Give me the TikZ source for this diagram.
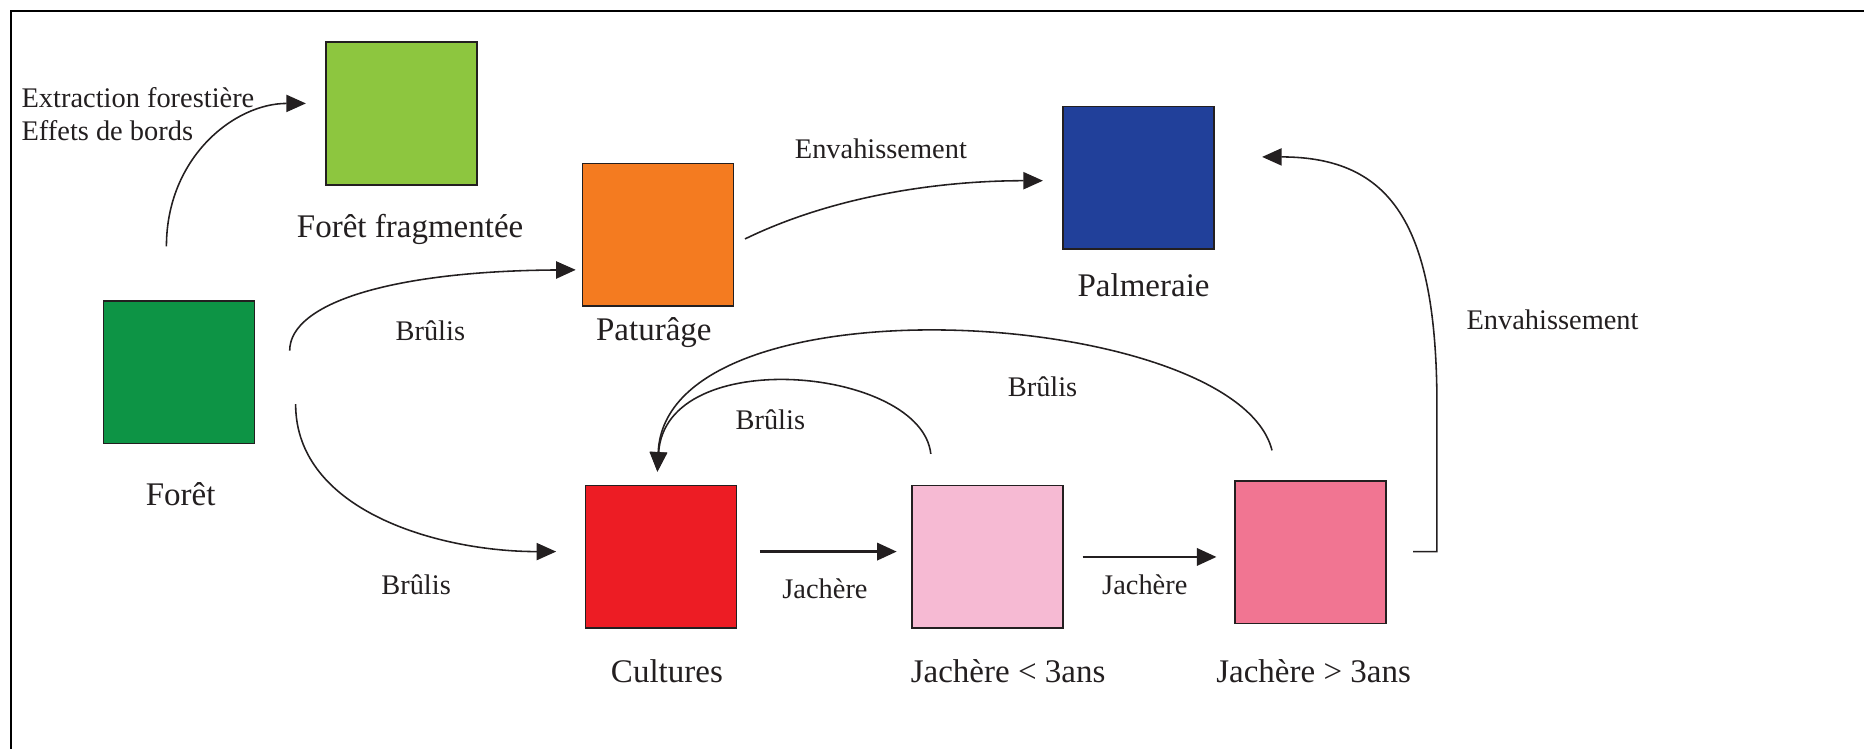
\documentclass[tikz,border=0pt]{standalone}
\usepackage{fontspec}
\setmainfont{Liberation Serif}
\usetikzlibrary{arrows.meta, positioning}
\definecolor{fragvert}{RGB}{141,198,63}
\definecolor{foretvert}{RGB}{13,148,69}
\definecolor{paturorange}{RGB}{244,123,32}
\definecolor{palmbleu}{RGB}{33,64,154}
\definecolor{cultrouge}{RGB}{237,28,36}
\definecolor{jachclair}{RGB}{246,186,211}
\definecolor{jachfonce}{RGB}{241,117,146}
\definecolor{bordgris}{RGB}{35,31,32}

\begin{document}
\begin{tikzpicture}[x=0.02cm, y=0.02cm,
    parcelle/.style={rectangle, draw=bordgris, line width=0.8pt, minimum width=2.54cm, minimum height=2.4cm, inner sep=0pt},
    etiquette/.style={font=\fontsize{15.8}{18}\selectfont, text=bordgris},
    transition/.style={font=\fontsize{13.6}{16}\selectfont, text=bordgris},
    courbe/.style={line width=0.75pt, color=bordgris, -{Triangle[length=0.33cm, width=0.29cm]}},
    fleche/.style={line width=1.3pt, color=bordgris, -{Triangle[length=0.33cm, width=0.29cm]}}
]
\useasboundingbox (0,0) rectangle (1568,630);
\draw[line width=1.1pt] (9,0) -- (9,621) -- (1568,621);
\node[parcelle, fill=foretvert] (foret) at (150.5,317) {};
\node[parcelle, fill=fragvert] (frag) at (337.5,534.5) {};
\node[parcelle, fill=paturorange] (patur) at (553.5,432.5) {};
\node[parcelle, fill=palmbleu] (palm) at (957.5,480.5) {};
\node[parcelle, fill=cultrouge] (cult) at (556,161.5) {};
\node[parcelle, fill=jachclair] (jachA) at (830.5,161.5) {};
\node[parcelle, fill=jachfonce] (jachB) at (1102.5,165.5) {};
\node[etiquette] (lforet) at (152,214) {Forêt};
\node[etiquette] (lfrag) at (345,437) {Forêt fragmentée};
\node[etiquette] (lpatur) at (550,350) {Paturâge};
\node[etiquette] (lpalm) at (962,390) {Palmeraie};
\node[etiquette] (lcult) at (561,65) {Cultures};
\node[etiquette] (ljachA) at (848,65) {Jachère < 3ans};
\node[etiquette] (ljachB) at (1105,65) {Jachère > 3ans};
\node[transition, align=left, anchor=west] (lextr) at (12,534) {Extraction forestière\\Effets de bords};
\node[transition] (brulisA) at (362,352) {Brûlis};
\node[transition] (brulisB) at (350,138) {Brûlis};
\node[transition] (envA) at (741,505) {Envahissement};
\node[transition] (jachTA) at (694,135) {Jachère};
\node[transition] (jachTB) at (963,138) {Jachère};
\node[transition] (envB) at (1306,361) {Envahissement};
\node[transition] (brulisC) at (648,277) {Brûlis};
\node[transition] (brulisD) at (877,305) {Brûlis};
\draw[courbe] ([shift={(-10.5,45)}]foret.north) .. controls +(0,75) and +(-60,0) .. ([shift={(-16,8.5)}]frag.west);
\draw[courbe] ([shift={(29,18)}]foret.east) .. controls +(0,40) and +(-155,-1) .. ([shift={(-5,-29.5)}]patur.west);
\draw[courbe] ([shift={(34,-27)}]foret.east) .. controls +(0,-90) and +(-98,0) .. ([shift={(-24,4.5)}]cult.west);
\draw[courbe] ([shift={(9,-3.5)}]patur.east) .. controls +(74,36) and +(-88,0) .. ([shift={(-16,-2.5)}]palm.west);
\draw[fleche] ([shift={(19,4.5)}]cult.east) -- ([shift={(-12,4.5)}]jachA.west);
\draw[fleche] ([shift={(16,0)}]jachA.east) -- ([shift={(-15,-4)}]jachB.west);
\draw[courbe] ([shift={(22,0.5)}]jachB.east) -- ++(20,0) -- ++(0,134) .. controls +(-2,140) and +(109,0) .. ([shift={(40,17.5)}]palm.east);
\draw[courbe] ([shift={(-47.5,26)}]jachA.north) .. controls +(-8,73) and +(7,108) .. ([shift={(-3,11)}]cult.north);
\draw[courbe] ([shift={(-32.5,25)}]jachB.north) .. controls +(-30,120) and +(7,168) .. ([shift={(-3,11)}]cult.north);
\end{tikzpicture}
\end{document}
